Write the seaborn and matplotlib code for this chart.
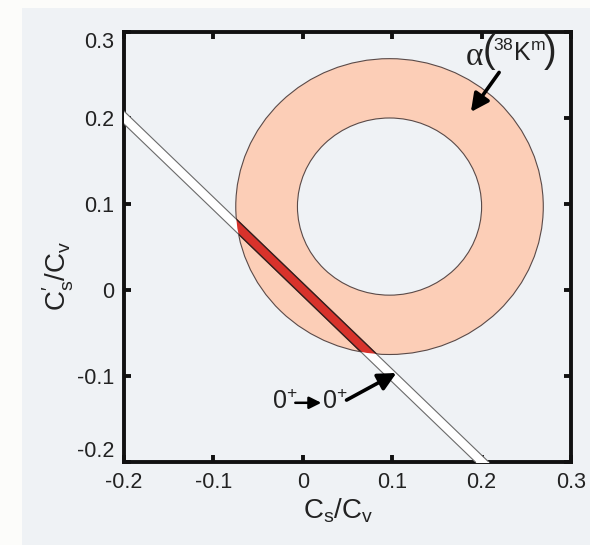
import matplotlib
matplotlib.use("Agg")
import matplotlib.pyplot as plt
from matplotlib.patches import Circle, Rectangle
from matplotlib.transforms import offset_copy
import seaborn as sns

# ring of allowed couplings: centre and the two radii
ring_center = (0.097, 0.097)
ring_outer_r = 0.172
ring_inner_r = 0.103

# superallowed 0+ -> 0+ band: two straight edges
band_x = [-0.22, 0.22]
band_upper = [0.228, -0.212]
band_lower = [0.213, -0.227]

ticks = [-0.2, -0.1, 0, 0.1, 0.2, 0.3]
tick_labels = ["-0.2", "-0.1", "0", "0.1", "0.2", "0.3"]

ring_label_xy = (0.229, 0.272)
ring_arrow_from = (0.2196, 0.253)
ring_arrow_to = (0.188, 0.207)
band_label_xy = (0.005, -0.130)
band_arrow_from = (0.0489, -0.128)
band_arrow_to = (0.1047, -0.0965)

BG = "#EFF2F5"
PEACH = "#FCCEB7"
RED = "#D8322B"
EDGE = "#5A4A48"
INK = "#222222"
PX = 1 / 1.389  # points per pixel at 100 dpi

sns.set_theme(style="ticks")
plt.rcParams["font.family"] = ["Liberation Sans", "DejaVu Sans"]
plt.rcParams["mathtext.fontset"] = "custom"
plt.rcParams["mathtext.rm"] = "Liberation Sans"
plt.rcParams["mathtext.it"] = "Liberation Sans:italic"
plt.rcParams["mathtext.sf"] = "Liberation Sans"
plt.rcParams["axes.unicode_minus"] = False

fig = plt.figure(figsize=(5.9, 5.45), dpi=100, facecolor="#FCFCFA")
fig.patches.append(Rectangle((0.037, 0.0), 0.963, 0.985, transform=fig.transFigure,
                             facecolor=BG, edgecolor="none", zorder=-10))
ax = fig.add_axes([0.2102, 0.1523, 0.7576, 0.789])
ax.set_facecolor(BG)

# ring
outer = Circle(ring_center, ring_outer_r, facecolor=PEACH, edgecolor=EDGE, lw=0.8, zorder=1)
inner = Circle(ring_center, ring_inner_r, facecolor=BG, edgecolor=EDGE, lw=0.8, zorder=2)
ax.add_patch(outer)
ax.add_patch(inner)

# white band, then the part inside the ring in red
ax.fill_between(band_x, band_lower, band_upper, color="white", lw=0, zorder=3)
red = ax.fill_between(band_x, band_lower, band_upper, color=RED, lw=0, zorder=4)
red.set_clip_path(Circle(ring_center, ring_outer_r, transform=ax.transData))

sns.lineplot(x=band_x, y=band_upper, color="#6A6A6A", lw=0.8, ax=ax, zorder=5)
sns.lineplot(x=band_x, y=band_lower, color="#6A6A6A", lw=0.8, ax=ax, zorder=5)
for ys in (band_upper, band_lower):
    ln, = ax.plot(band_x, ys, color="#3A1A18", lw=1.0, zorder=6)
    ln.set_clip_path(Circle(ring_center, ring_outer_r, transform=ax.transData))


def piece(anchor, s, dx_px, dy_px, size, **kw):
    """Place a text fragment a few pixels away from a data anchor."""
    ax.annotate(s, xy=anchor, xytext=(dx_px * PX, dy_px * PX),
                textcoords="offset points", ha="center", va="center",
                fontsize=size, color=INK, zorder=8, **kw)


arrow_kw = dict(arrowstyle="-|>,head_length=0.9,head_width=0.45", lw=2.6,
                color="black", shrinkA=0, shrinkB=0)

# ring label: alpha, tall parentheses around 38K^m
piece(ring_label_xy, "α", -33, -1, 24, family=["Liberation Serif", "DejaVu Serif"])
piece(ring_label_xy, "(", -19, 4, 27)
piece(ring_label_xy, r"$^{38}\mathrm{K}^{\mathrm{m}}$", 12, 3, 18)
piece(ring_label_xy, ")", 43, 4, 27)
ax.annotate("", xy=ring_arrow_to, xytext=ring_arrow_from, arrowprops=arrow_kw, zorder=8)

# band label: 0+ -> 0+
piece(band_label_xy, r"$0^{+}$", -23, 0, 18)
piece(band_label_xy, r"$0^{+}$", 27, 0, 18)
left_tr = offset_copy(ax.transData, fig=fig, x=-12 * PX, y=-1 * PX, units="points")
right_tr = offset_copy(ax.transData, fig=fig, x=14 * PX, y=-1 * PX, units="points")
ax.annotate("", xy=band_label_xy, xycoords=right_tr,
            xytext=band_label_xy, textcoords=left_tr,
            arrowprops=dict(arrowstyle="-|>,head_length=0.6,head_width=0.3", lw=1.8,
                            color="black", shrinkA=0, shrinkB=0), zorder=8)
ax.annotate("", xy=band_arrow_to, xytext=band_arrow_from, arrowprops=arrow_kw, zorder=8)

ax.set_xlim(-0.2, 0.3)
ax.set_ylim(-0.2, 0.3)
ax.set_xticks(ticks)
ax.set_xticklabels(tick_labels)
ax.set_yticks(ticks)
ax.set_yticklabels(tick_labels)
ax.tick_params(direction="in", length=5, width=2.8, labelsize=15.5, pad=7,
               top=True, right=True, color="#111111", labelcolor=INK)
ylabs = ax.get_yticklabels()
ylabs[0].set_va("bottom")
ylabs[-1].set_va("top")
for sp in ax.spines.values():
    sp.set_linewidth(2.8)
    sp.set_color("#111111")
    sp.set_visible(True)

ax.set_xlabel(r"$\mathrm{C_s/C_v}$", fontsize=20, color=INK)
ax.set_ylabel(r"$\mathrm{C_s^{\prime}/C_v}$", fontsize=20, color=INK)
ax.xaxis.set_label_coords(0.479, -0.08)
ax.yaxis.set_label_coords(-0.108, 0.433)

fig.savefig("out.png", dpi=100, facecolor=fig.get_facecolor())
